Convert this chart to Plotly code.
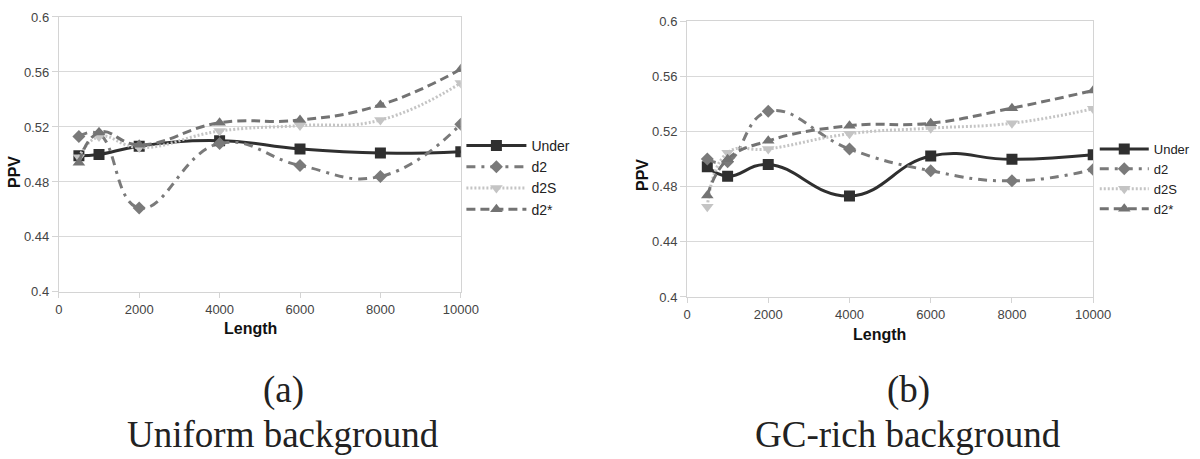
import plotly.graph_objects as go

lengths = [500, 1000, 2000, 4000, 6000, 8000, 10000]

# (a) Uniform background
uni_under = [0.499, 0.500, 0.506, 0.510, 0.504, 0.501, 0.502]
uni_d2 = [0.513, 0.515, 0.461, 0.508, 0.492, 0.484, 0.522]
uni_d2s = [0.498, 0.513, 0.505, 0.517, 0.521, 0.525, 0.552]
uni_d2star = [0.494, 0.516, 0.507, 0.523, 0.525, 0.536, 0.562]

# (b) GC-rich background
gc_under = [0.4945, 0.4876, 0.4961, 0.4732, 0.5022, 0.4998, 0.5032]
gc_d2 = [0.500, 0.498, 0.5346, 0.5073, 0.4915, 0.4842, 0.4924]
gc_d2s = [0.4655, 0.5046, 0.5073, 0.5183, 0.5224, 0.526, 0.5365]
gc_d2star = [0.4735, 0.4998, 0.5132, 0.5241, 0.526, 0.5369, 0.5497]

series_names = ["Under", "d2", "d2S", "d2*"]
x_ticks = [0, 2000, 4000, 6000, 8000, 10000]
x_ticktext = ["0", "2000", "4000", "6000", "8000", "10000"]
y_ticks = [0.4, 0.44, 0.48, 0.52, 0.56, 0.6]
y_ticktext = ["0.4", "0.44", "0.48", "0.52", "0.56", "0.6"]
captions = [("(a)", "Uniform background"), ("(b)", "GC-rich background")]

styles = {
    "Under": dict(color="#2f2f2f", dash="solid", width=3, symbol="square", msize=11),
    "d2": dict(color="#7a7a7a", dash="9px,6px,3px,6px", width=3, symbol="diamond", msize=10),
    "d2S": dict(color="#c4c4c4", dash="2px,2px", width=3, symbol="triangle-down", msize=11),
    "d2*": dict(color="#737373", dash="9px,5px", width=3, symbol="triangle-up", msize=11),
}

fig = go.Figure()

panels = [
    ([uni_under, uni_d2, uni_d2s, uni_d2star], "x", "y", "legend"),
    ([gc_under, gc_d2, gc_d2s, gc_d2star], "x2", "y2", "legend2"),
]
for vals, xa, ya, leg in panels:
    for name, v in zip(series_names, vals):
        s = styles[name]
        fig.add_trace(go.Scatter(
            x=lengths, y=v, name=name, xaxis=xa, yaxis=ya, legend=leg,
            mode="lines+markers",
            line=dict(color=s["color"], dash=s["dash"], width=s["width"],
                      shape="spline", smoothing=1.3),
            marker=dict(symbol=s["symbol"], size=s["msize"], color=s["color"]),
        ))

tickfont = dict(family="Liberation Sans, Arial", size=13, color="#444444")
ax_common = dict(range=[0, 10000], tickvals=x_ticks, ticktext=x_ticktext,
                 showgrid=False, zeroline=False, automargin=False,
                 showline=True, linecolor="#d4d4d4", linewidth=1, mirror=True,
                 ticks="outside", ticklen=5, tickcolor="#d4d4d4", tickfont=tickfont)
ay_common = dict(range=[0.4, 0.6], tickvals=y_ticks, ticktext=y_ticktext,
                 showgrid=True, gridcolor="#d9d9d9", gridwidth=1, zeroline=False,
                 automargin=False,
                 showline=True, linecolor="#d4d4d4", linewidth=1, mirror=True,
                 ticks="outside", ticklen=6, tickcolor="#d4d4d4", tickfont=tickfont)

legend_common = dict(bgcolor="rgba(0,0,0,0)", tracegroupgap=0,
                     xanchor="left", yanchor="top", traceorder="normal")

fig.update_layout(
    width=1200, height=459,
    margin=dict(l=0, r=0, t=0, b=0, autoexpand=False),
    paper_bgcolor="white", plot_bgcolor="white",
    xaxis=dict(domain=[0.049, 0.384], anchor="y", **ax_common),
    yaxis=dict(domain=[0.364, 0.963], anchor="x", **ay_common),
    xaxis2=dict(domain=[0.5725, 0.911], anchor="y2", **ax_common),
    yaxis2=dict(domain=[0.353, 0.954], anchor="x2", **ay_common),
    legend=dict(x=0.3845, y=1 - 130 / 459, itemwidth=60,
                font=dict(family="Liberation Sans, Arial", size=14, color="#222222"),
                **legend_common),
    legend2=dict(x=0.9123, y=1 - 134 / 459, itemwidth=49,
                 font=dict(family="Liberation Sans, Arial", size=13, color="#222222"),
                 **legend_common),
    showlegend=True,
)

bold = dict(family="Liberation Sans, Arial", size=16, color="#111111")
ann = [
    dict(text="<b>PPV</b>", x=15 / 1200, y=1 - 172 / 459, textangle=-90, font=bold),
    dict(text="<b>Length</b>", x=250 / 1200, y=1 - 328 / 459, font=bold),
    dict(text="<b>PPV</b>", x=642 / 1200, y=1 - 175 / 459, textangle=-90, font=bold),
    dict(text="<b>Length</b>", x=880 / 1200, y=1 - 334 / 459, font=bold),
]
serif = dict(family="Liberation Serif, DejaVu Serif", size=37, color="#222222")
for cx, (lab, title) in zip([283, 908], captions):
    ann.append(dict(text=lab, x=cx / 1200, y=1 - 390 / 459, font=serif))
    ann.append(dict(text=title, x=cx / 1200, y=1 - 434 / 459, font=serif))
for a in ann:
    a.update(xref="paper", yref="paper", showarrow=False, xanchor="center", yanchor="middle")
fig.update_layout(annotations=ann)

fig.write_html(
    "out.html",
    config={"displayModeBar": False},
    post_script="document.body.style.margin='0';document.body.style.overflow='hidden';",
)
